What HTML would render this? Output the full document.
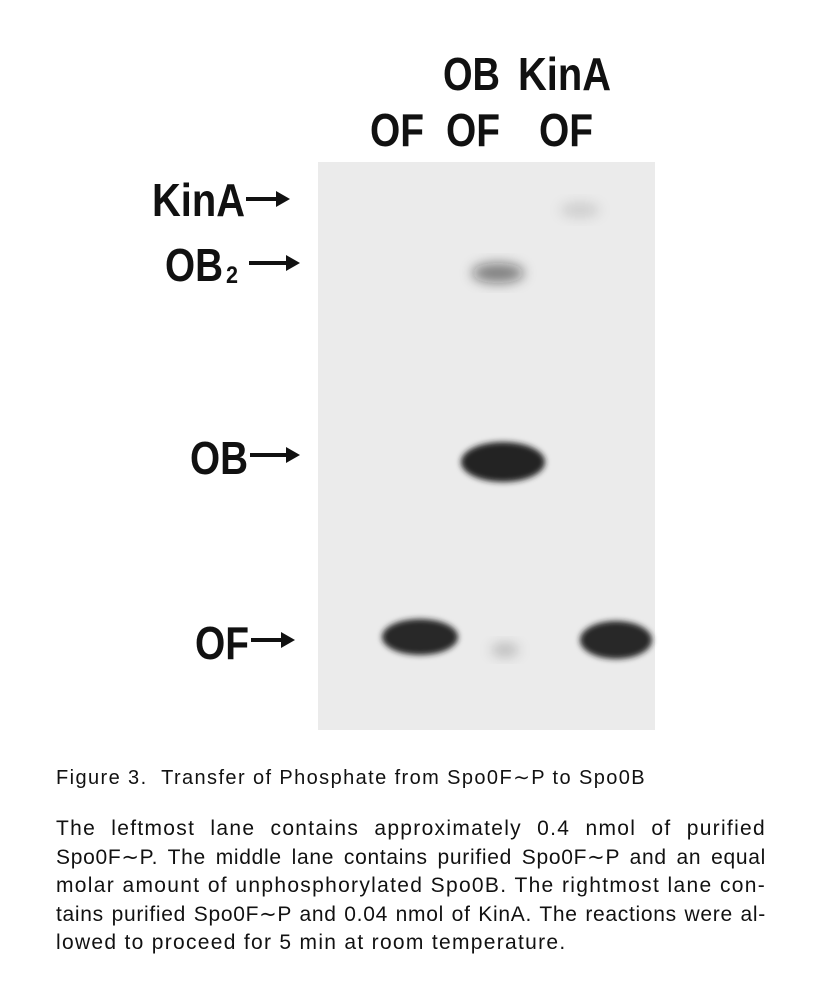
<!DOCTYPE html>
<html><head><meta charset="utf-8"><style>
body{margin:0;background:#fff;width:822px;height:998px;overflow:hidden;position:relative;font-family:"Liberation Sans",sans-serif;}
.cap{position:absolute;left:56px;width:710px;color:#111;}
#title{top:765px;font-size:20px;letter-spacing:1.4px;}
#body{top:815px;font-size:21px;line-height:28.6px;letter-spacing:1.3px;}
#body div{text-align:justify;text-align-last:justify;white-space:nowrap;}
#body div.tight{letter-spacing:0.7px;}
#body div.last{text-align-last:left;}
</style></head><body>
<svg id="fig" width="822" height="760" style="position:absolute;left:0;top:0">
<defs>
<filter id="blur" x="-50%" y="-50%" width="200%" height="200%"><feGaussianBlur stdDeviation="6"/></filter>
<filter id="blur2" x="-50%" y="-50%" width="200%" height="200%"><feGaussianBlur stdDeviation="3"/></filter>
</defs>
<rect x="318" y="162" width="337" height="568" fill="#ebebeb"/>
<g id="bands"></g>
<g font-family="'Liberation Sans',sans-serif" font-weight="bold" fill="#111" font-size="46">
<text x="443" y="90" textLength="57" lengthAdjust="spacingAndGlyphs">OB</text>
<text x="518" y="90" textLength="93" lengthAdjust="spacingAndGlyphs">KinA</text>
<text x="370" y="146" textLength="54" lengthAdjust="spacingAndGlyphs">OF</text>
<text x="446" y="146" textLength="54" lengthAdjust="spacingAndGlyphs">OF</text>
<text x="539" y="146" textLength="54" lengthAdjust="spacingAndGlyphs">OF</text>
<text x="152" y="216" textLength="93" lengthAdjust="spacingAndGlyphs">KinA</text>
<text x="165" y="281" textLength="58" lengthAdjust="spacingAndGlyphs">OB</text>
<text x="226" y="283" font-size="24" textLength="12" lengthAdjust="spacingAndGlyphs">2</text>
<text x="190" y="474" textLength="58" lengthAdjust="spacingAndGlyphs">OB</text>
<text x="195" y="659" textLength="54" lengthAdjust="spacingAndGlyphs">OF</text>
</g>
<g stroke="#111" stroke-width="4" fill="#111">
<line x1="246" y1="199" x2="280" y2="199"/><polygon points="290,199 276,191 276,207" stroke="none"/>
<line x1="249" y1="263" x2="290" y2="263"/><polygon points="300,263 286,255 286,271" stroke="none"/>
<line x1="250" y1="455" x2="290" y2="455"/><polygon points="300,455 286,447 286,463" stroke="none"/>
<line x1="251" y1="640" x2="285" y2="640"/><polygon points="295,640 281,632 281,648" stroke="none"/>
</g>
</svg>
<div id="title" class="cap">Figure 3.&nbsp; Transfer of Phosphate from Spo0F∼P to Spo0B</div>
<div id="body" class="cap">
<div>The leftmost lane contains approximately 0.4 nmol of purified</div>
<div class="tight">Spo0F∼P. The middle lane contains purified Spo0F∼P and an equal</div>
<div>molar amount of unphosphorylated Spo0B. The rightmost lane con-</div>
<div class="tight">tains purified Spo0F∼P and 0.04 nmol of KinA. The reactions were al-</div>
<div class="last">lowed to proceed for 5 min at room temperature.</div>
</div>
<script>
const bandNames=["of-lane1","ob2-lane2","ob-lane2","of-lane2","of-lane3","kina-lane3"];
const bandX=[420,498,503,505,616,580];
const bandY=[637,273,462,650,640,210];
const bandRx=[38,26,42,14,36,20];
const bandRy=[18,10,20,7,19,8];
const bandDark=[0.95,0.5,0.97,0.2,0.95,0.12];
const g=document.getElementById('bands');
const ns="http://www.w3.org/2000/svg";
for(let i=0;i<bandNames.length;i++){
  const e=document.createElementNS(ns,'ellipse');
  
  
  e.setAttribute('cx',bandX[i]);e.setAttribute('cy',bandY[i]);
  e.setAttribute('rx',bandRx[i]);e.setAttribute('ry',bandRy[i]);
  e.setAttribute('fill','#1a1a1a');e.setAttribute('fill-opacity',bandDark[i]);
  e.setAttribute('filter',bandDark[i]>0.8?'url(#blur2)':'url(#blur)');
  g.appendChild(e);
}
</script>
</body></html>
